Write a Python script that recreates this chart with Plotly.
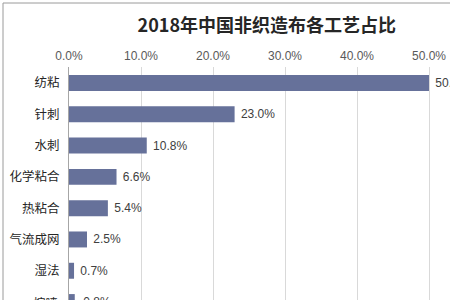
import plotly.graph_objects as go

categories = ["纺粘", "针刺", "水刺", "化学粘合", "热粘合", "气流成网", "湿法", "熔喷"]
values = [50.0, 23.0, 10.8, 6.6, 5.4, 2.5, 0.7, 0.8]
x_ticks = [0, 10, 20, 30, 40, 50]

BAR = "#66719a"
W, H = 450, 300
ML, MT = 69, 67
STEP = 31.3  # px per category
LO = -0.51

fig = go.Figure()
fig.add_trace(go.Bar(
    y=categories, x=values, orientation="h",
    marker=dict(color=BAR, line=dict(width=0)),
    width=0.51,
    text=["\u00a0" + f"{v:.1f}%" for v in values],
    textposition="outside",
    textfont=dict(family="Liberation Sans, Arial", size=12, color="#404040"),
    cliponaxis=False,
    hoverinfo="skip",
))

plot_w = W - ML
plot_h = H - MT
n_vis = plot_h / STEP
x_max = plot_w / 7.2  # ~7.2 px per percentage point as in the reference

# last category falls just below the visible area: place its labels from the scale
last_idx = len(categories) - 1
last_paper_y = 1 - (last_idx - LO) / n_vis

fig.update_layout(
    width=W, height=H,
    margin=dict(l=ML, r=0, t=MT, b=0),
    paper_bgcolor="white", plot_bgcolor="white",
    showlegend=False,
    title=dict(
        text="<b>2018年中国非织造布各工艺占比</b>",
        font=dict(family="Noto Sans CJK SC", size=18, color="#262626"),
        x=0.593, xanchor="center", y=0.915, yanchor="middle", yref="container",
    ),
    xaxis=dict(
        side="top", range=[0, x_max],
        tickvals=x_ticks, ticktext=[f"{t:.1f}%" for t in x_ticks],
        tickfont=dict(family="Liberation Sans, Arial", size=12, color="#595959"),
        showgrid=True, gridcolor="#d9d9d9", gridwidth=1,
        zeroline=False, showline=False, ticks="", ticklabelstandoff=4,
    ),
    yaxis=dict(
        type="category", categoryorder="array", categoryarray=categories,
        range=[n_vis + LO, LO],
        tickfont=dict(family="Noto Sans CJK SC", size=12.5, color="#262626"),
        showgrid=False, zeroline=False,
        showline=True, linecolor="#a6a6a6", linewidth=1,
        ticks="", ticklabelstandoff=6,
    ),
    shapes=[
        dict(type="line", xref="paper", yref="paper",
             x0=(3 - ML) / plot_w, x1=1.0, y0=1 + (MT - 3) / plot_h, y1=1 + (MT - 3) / plot_h,
             line=dict(color="#9a9a9a", width=1)),
        dict(type="line", xref="paper", yref="paper",
             x0=(3 - ML) / plot_w, x1=(3 - ML) / plot_w, y0=-0.1, y1=1 + (MT - 3) / plot_h,
             line=dict(color="#9a9a9a", width=1)),
    ],
    annotations=[
        dict(text=categories[-1], x=0, xref="paper", xanchor="right", xshift=-8,
             y=last_paper_y, yref="paper", yanchor="middle", showarrow=False,
             font=dict(family="Noto Sans CJK SC", size=12.5, color="#262626")),
        dict(text="\u00a0" + f"{values[-1]:.1f}%", x=values[-1], xref="x", xanchor="left", xshift=3,
             y=last_paper_y, yref="paper", yanchor="middle", showarrow=False,
             font=dict(family="Liberation Sans, Arial", size=12, color="#404040")),
    ],
)

fig.write_html("out.html")
